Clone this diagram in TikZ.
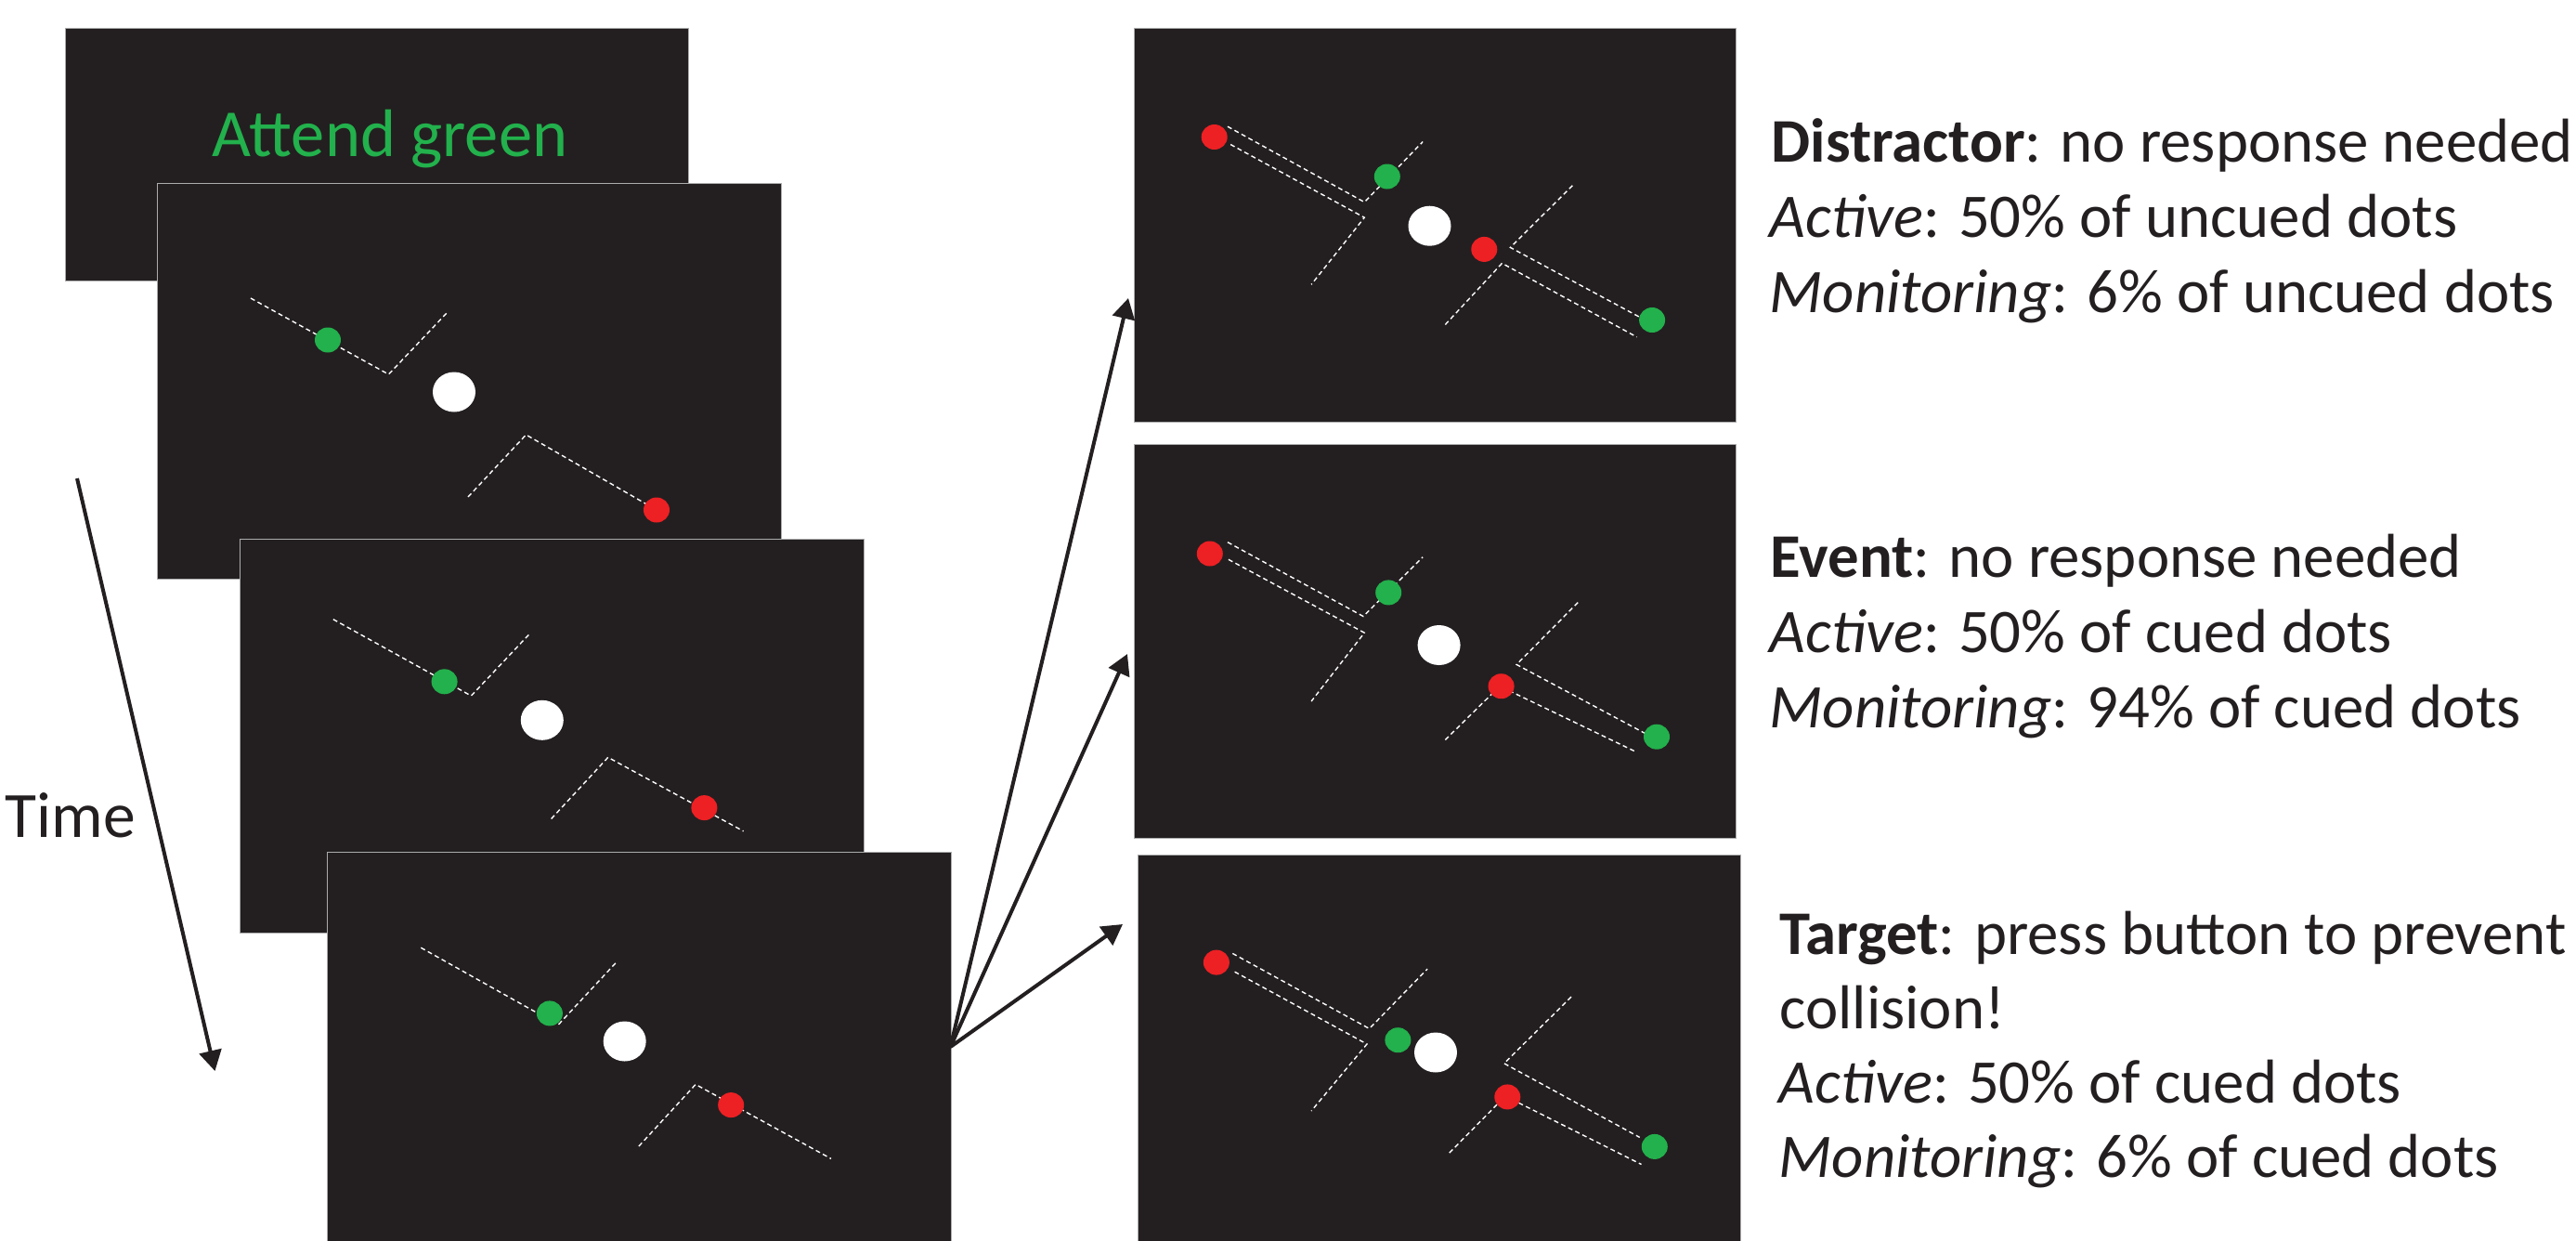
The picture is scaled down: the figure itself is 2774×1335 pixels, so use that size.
\documentclass[tikz,border=0pt]{standalone}
\usepackage{fontspec}
\setmainfont{Carlito}
\usetikzlibrary{arrows.meta}
\definecolor{scr}{HTML}{231F20}
\definecolor{ink}{HTML}{231F20}
\definecolor{dgreen}{RGB}{34,177,76}
\definecolor{dred}{RGB}{237,32,36}
\tikzset{
  screen/.style={fill=scr, draw=gray!65, line width=0.01cm, inner sep=0pt, anchor=north west},
  traj/.style={white, line width=0.014cm, dash pattern=on 0.05cm off 0.035cm},
  gdot/.style={fill=dgreen},
  rdot/.style={fill=dred},
  wdot/.style={fill=white},
  conn/.style={ink, line width=0.04cm, -{Triangle[length=0.22cm,width=0.24cm]}},
  lbl/.style={inner sep=0pt, anchor=base west, text=ink, font=\fontsize{19pt}{23pt}\selectfont},
}
\begin{document}
\begin{tikzpicture}[x=0.01cm, y=-0.01cm]
\useasboundingbox (0,0) rectangle (2774,1335);

% ---------- left stack of screens ----------
\node[screen, minimum width=6.714cm, minimum height=2.72cm] (s1) at (69.6,30) {};
\node[inner sep=0pt, anchor=base west, text=dgreen, font=\fontsize{20.6pt}{24pt}\selectfont] (cue) at (228,168) {Attend green};

\node[screen, minimum width=6.71cm, minimum height=4.26cm] (s2) at (169.4,197) {};
\draw[traj] (270,321) -- (418.5,403) -- (481,337);
\draw[traj] (504,535) -- (566.5,468) -- (707,549);
\fill[gdot] (353,366) ellipse [x radius=14, y radius=13.5];
\fill[wdot] (489,422) ellipse [x radius=23, y radius=21.5];
\fill[rdot] (707,549) ellipse [x radius=14, y radius=13.5];

\node[screen, minimum width=6.716cm, minimum height=4.245cm] (s3) at (258,579.5) {};
\draw[traj] (358.8,666.7) -- (507.4,749.1) -- (569.7,683);
\draw[traj] (593.6,881.5) -- (654.8,815.3) -- (800.6,894.8);
\fill[gdot] (478.6,733.8) ellipse [x radius=14, y radius=13.5];
\fill[wdot] (583.8,775.3) ellipse [x radius=23, y radius=21.5];
\fill[rdot] (758.4,869.6) ellipse [x radius=14, y radius=13.5];

\node[screen, minimum width=6.711cm, minimum height=4.25cm] (s4) at (352.3,917) {};
\draw[traj] (453.3,1020.2) -- (601.2,1103.2) -- (664,1035.6);
\draw[traj] (687.9,1234) -- (749.1,1167.4) -- (895,1247.4);
\fill[gdot] (591.9,1090.9) ellipse [x radius=14, y radius=13.5];
\fill[wdot] (672.7,1121) ellipse [x radius=23, y radius=21.5];
\fill[rdot] (787.2,1189.6) ellipse [x radius=14, y radius=13.5];

% ---------- right outcome screens ----------
\node[screen, minimum width=6.482cm, minimum height=4.235cm] (r1) at (1220.6,30) {};
\draw[traj] (1322,136.2) -- (1469.3,217.6) -- (1532.2,152.5);
\draw[traj] (1325.1,155.5) -- (1469.3,234.2) -- (1412.1,306.3);
\draw[traj] (1693.4,199.7) -- (1626.4,266.4) -- (1771.5,344.5);
\draw[traj] (1556.3,349.5) -- (1617.5,283.4) -- (1762.6,362.8);
\fill[rdot] (1307.7,147.5) ellipse [x radius=14, y radius=13.5];
\fill[gdot] (1493.8,190) ellipse [x radius=14, y radius=13.5];
\fill[wdot] (1539.5,243.2) ellipse [x radius=23, y radius=21.5];
\fill[rdot] (1598.3,268.4) ellipse [x radius=14, y radius=13.5];
\fill[gdot] (1779.1,344.5) ellipse [x radius=14, y radius=13.5];

\node[screen, minimum width=6.482cm, minimum height=4.24cm] (r2) at (1220.6,477.5) {};
\draw[traj] (1322,583.7) -- (1468,663.5) -- (1532.2,599.7);
\draw[traj] (1322.9,602.3) -- (1469.3,681.2) -- (1412.1,755);
\draw[traj] (1699.2,648.6) -- (1633.1,715.4) -- (1777.3,792.6);
\draw[traj] (1556.3,796.5) -- (1615,738.7) -- (1762.6,809.8);
\fill[rdot] (1302.8,596) ellipse [x radius=14, y radius=13.5];
\fill[gdot] (1495.2,637.9) ellipse [x radius=14, y radius=13.5];
\fill[wdot] (1549.6,694.5) ellipse [x radius=23, y radius=21.5];
\fill[rdot] (1616.6,738.7) ellipse [x radius=14, y radius=13.5];
\fill[gdot] (1784,793.2) ellipse [x radius=14, y radius=13.5];

\node[screen, minimum width=6.483cm, minimum height=4.235cm] (r3) at (1225,919.5) {};
\draw[traj] (1327.3,1026.4) -- (1474.6,1107.4) -- (1537.1,1043.1);
\draw[traj] (1329.6,1046.2) -- (1472,1124) -- (1412.1,1196);
\draw[traj] (1692,1073.2) -- (1619.7,1144.8) -- (1765.7,1224.4);
\draw[traj] (1560.8,1241.1) -- (1621,1180) -- (1767.5,1253.5);
\fill[rdot] (1309.9,1036.1) ellipse [x radius=14, y radius=13.5];
\fill[gdot] (1505.4,1119.7) ellipse [x radius=14, y radius=13.5];
\fill[wdot] (1546,1133) ellipse [x radius=23, y radius=21.5];
\fill[rdot] (1623.3,1180.9) ellipse [x radius=14, y radius=13.5];
\fill[gdot] (1781.8,1234.4) ellipse [x radius=14, y radius=13.5];

% ---------- connectors ----------
\coordinate (tstart) at (83,515);
\coordinate (tend) at (231.5,1153);
\draw[conn] (tstart) -- (tend);
\node[lbl, font=\fontsize{19.8pt}{23pt}\selectfont] (time) at (5,901) {Time};

\coordinate (fan) at (1023.5,1127);
\coordinate (a1) at (1215,321);
\coordinate (a2) at (1214,704);
\coordinate (a3) at (1209,995);
\draw[conn] (fan) -- (a1);
\draw[conn] (fan) -- (a2);
\draw[conn] (fan) -- (a3);

% ---------- descriptions ----------
\node[lbl] (d1) at (1907,174) {\textbf{Distractor}: no response needed};
\node[lbl] (d2) at (1905,255) {\textit{Active}: 50\% of uncued dots};
\node[lbl] (d3) at (1905,336) {\textit{Monitoring}: 6\% of uncued dots};

\node[lbl] (e1) at (1906,621) {\textbf{Event}: no response needed};
\node[lbl] (e2) at (1905,702) {\textit{Active}: 50\% of cued dots};
\node[lbl] (e3) at (1905,783) {\textit{Monitoring}: 94\% of cued dots};

\node[lbl] (g1) at (1916,1027) {\textbf{Target}: press button to prevent};
\node[lbl] (g2) at (1916,1107) {collision!};
\node[lbl] (g3) at (1915,1187) {\textit{Active}: 50\% of cued dots};
\node[lbl] (g4) at (1915,1267) {\textit{Monitoring}: 6\% of cued dots};
\end{tikzpicture}
\end{document}
